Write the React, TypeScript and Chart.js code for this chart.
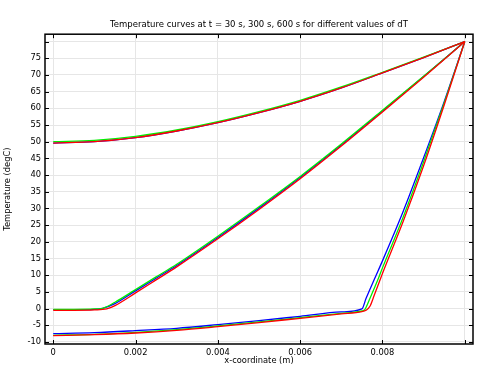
import React, { useEffect, useRef } from "react";
import { Chart, registerables } from "chart.js";

Chart.register(...registerables);

// ---- data ----
const TITLE = "Temperature curves at t = 30 s, 300 s, 600 s for different values of dT";
const xTickValues = [0, 0.002, 0.004, 0.006, 0.008, 0.01];
const yTickValues = [-10, -5, 0, 5, 10, 15, 20, 25, 30, 35, 40, 45, 50, 55, 60, 65, 70, 75, 80];

// t = 600 s
const x600 = [0, 0.001, 0.002, 0.003, 0.004, 0.005, 0.006, 0.007, 0.008, 0.009, 0.01];
const blue600 = [49.6, 50.0, 51.2, 53.2, 55.7, 58.7, 62.1, 66.1, 70.6, 75.2, 80.0];
const green600 = [50.0, 50.4, 51.6, 53.5, 56.0, 59.0, 62.4, 66.4, 70.8, 75.3, 80.0];
const red600 = [49.6, 50.0, 51.2, 53.2, 55.7, 58.7, 62.1, 66.1, 70.6, 75.2, 80.0];

// t = 300 s
const x300Red = [0, 0.0005, 0.001, 0.0013, 0.0015, 0.002, 0.0025, 0.003, 0.004, 0.005, 0.006, 0.007, 0.008, 0.009, 0.01];
const red300 = [-0.5, -0.5, -0.4, -0.1, 0.9, 4.7, 8.6, 12.5, 20.9, 29.7, 38.9, 48.7, 58.9, 69.3, 80.0];
const x300 = [0, 0.0005, 0.001, 0.0012, 0.0015, 0.002, 0.0025, 0.003, 0.004, 0.005, 0.006, 0.007, 0.008, 0.009, 0.01];
const green300 = [-0.2, -0.2, -0.1, 0.1, 1.9, 5.7, 9.5, 13.3, 21.7, 30.5, 39.6, 49.3, 59.4, 69.6, 80.0];
const blue300 = [-0.3, -0.3, -0.2, 0.1, 1.5, 5.3, 9.1, 12.9, 21.3, 30.1, 39.3, 49.0, 59.2, 69.5, 80.0];

// t = 30 s
const x30Blue = [0, 0.001, 0.002, 0.003, 0.004, 0.005, 0.006, 0.007, 0.0075, 0.0076, 0.0078, 0.008, 0.0085, 0.009, 0.0095, 0.01];
const blue30 = [-7.5, -7.2, -6.6, -5.9, -4.8, -3.6, -2.3, -1.0, -0.1, 3.0, 8.7, 14.3, 29.0, 45.2, 62.0, 80.0];
const x30Green = [0, 0.001, 0.002, 0.003, 0.004, 0.005, 0.006, 0.007, 0.0075, 0.00757, 0.0077, 0.0079, 0.008, 0.0085, 0.009, 0.0095, 0.01];
const green30 = [-8.0, -7.7, -7.1, -6.3, -5.2, -4.0, -2.7, -1.4, -0.7, -0.3, 3.2, 9.0, 12.2, 27.3, 44.0, 61.6, 80.0];
const x30Red = [0, 0.001, 0.002, 0.003, 0.004, 0.005, 0.006, 0.007, 0.0075, 0.0076, 0.0077, 0.0078, 0.008, 0.0085, 0.009, 0.0095, 0.01];
const red30 = [-8.1, -7.8, -7.3, -6.5, -5.4, -4.2, -2.9, -1.6, -0.9, -0.5, 0.8, 4.0, 10.5, 26.0, 42.8, 61.0, 80.0];

const BLUE = "#0000ff";
const GREEN = "#00ee00";
const RED = "#ff0000";

const pts = (xs: number[], ys: number[]) => xs.map((x, i) => ({ x, y: ys[i] }));

const FAMILY = "'DejaVu Sans', sans-serif";
const FONT = { family: FAMILY, size: 8.3 };
const TITLE_SIZE = 8.5;

const frameTicks = {
  id: "frameTicks",
  afterDraw(chart: any) {
    const { ctx, chartArea: a, scales } = chart;
    const len = 4;
    ctx.save();
    ctx.strokeStyle = "#000";
    ctx.lineWidth = 1;
    ctx.beginPath();
    for (const v of xTickValues) {
      const px = Math.round(scales.x.getPixelForValue(v)) + 0.5;
      ctx.moveTo(px, a.bottom);
      ctx.lineTo(px, a.bottom - len);
      ctx.moveTo(px, a.top);
      ctx.lineTo(px, a.top + len);
    }
    for (const v of yTickValues) {
      const py = Math.round(scales.y.getPixelForValue(v)) + 0.5;
      ctx.moveTo(a.left, py);
      ctx.lineTo(a.left + len, py);
      ctx.moveTo(a.right, py);
      ctx.lineTo(a.right - len, py);
    }
    ctx.stroke();
    ctx.lineWidth = 1.5;
    ctx.strokeRect(a.left, a.top, a.right - a.left, a.bottom - a.top);
    // title centred over the plot area
    ctx.fillStyle = "#000";
    ctx.font = `${TITLE_SIZE}px ${FAMILY}`;
    ctx.textAlign = "center";
    ctx.textBaseline = "middle";
    ctx.fillText(TITLE, (a.left + a.right) / 2, 25);
    ctx.restore();
  },
};

export default function App() {
  const ref = useRef<HTMLCanvasElement>(null);

  useEffect(() => {
    if (!ref.current) return;
    const line = (data: any, color: string) => ({
      data,
      borderColor: color,
      backgroundColor: color,
      borderWidth: 1.3,
      pointRadius: 0,
      fill: false,
      cubicInterpolationMode: "monotone" as const,
    });
    const chart = new Chart(ref.current, {
      type: "line",
      data: {
        datasets: [
          line(pts(x600, red600), RED),
          line(pts(x300Red, red300), RED),
          line(pts(x30Red, red30), RED),
          line(pts(x600, green600), GREEN),
          line(pts(x300, green300), GREEN),
          line(pts(x30Green, green30), GREEN),
          line(pts(x600, blue600), BLUE),
          line(pts(x300, blue300), BLUE),
          line(pts(x30Blue, blue30), BLUE),
        ],
      },
      options: {
        animation: false,
        responsive: true,
        maintainAspectRatio: false,
        layout: { padding: { left: 3, right: 10, top: 0, bottom: 4 } },
        plugins: {
          legend: { display: false },
          tooltip: { enabled: false },
          title: {
            display: true,
            text: TITLE,
            font: { family: FAMILY, size: TITLE_SIZE, weight: "normal" },
            color: "rgba(0,0,0,0)",
            padding: { top: 20, bottom: 4 },
          },
        },
        scales: {
          x: {
            type: "linear",
            min: -0.0002,
            max: 0.0102,
            afterBuildTicks: (s: any) => {
              s.ticks = xTickValues.map((v) => ({ value: v }));
            },
            afterFit: (s: any) => {
              s.height = 22;
            },
            ticks: {
              font: FONT,
              color: "#000",
              padding: 4,
              maxRotation: 0,
              autoSkip: false,
              callback: (v: any) => {
                const n = Number(v);
                if (Math.abs(n - 0.01) < 1e-9) return "";
                if (Math.abs(n) < 1e-12) return "0";
                return n.toFixed(3);
              },
            },
            grid: { color: "#e6e6e6", lineWidth: 1, drawTicks: false },
            border: { display: false },
            title: { display: true, text: "x-coordinate (m)", font: FONT, color: "#000", padding: 0 },
          },
          y: {
            type: "linear",
            min: -10.6,
            max: 82.2,
            afterBuildTicks: (s: any) => {
              s.ticks = yTickValues.map((v) => ({ value: v }));
            },
            afterFit: (s: any) => {
              s.width = 42;
            },
            ticks: {
              font: FONT,
              color: "#000",
              padding: 4,
              autoSkip: false,
              callback: (v: any) => (Number(v) === 80 ? "" : String(v)),
            },
            grid: { color: "#e6e6e6", lineWidth: 1, drawTicks: false },
            border: { display: false },
            title: { display: true, text: "Temperature (degC)", font: FONT, color: "#000", padding: 0 },
          },
        },
      },
      plugins: [frameTicks],
    });
    return () => chart.destroy();
  }, []);

  return (
    <div style={{ position: "fixed", left: 0, top: 0, width: 483, height: 370, background: "#fff" }}>
      <canvas ref={ref} />
    </div>
  );
}
